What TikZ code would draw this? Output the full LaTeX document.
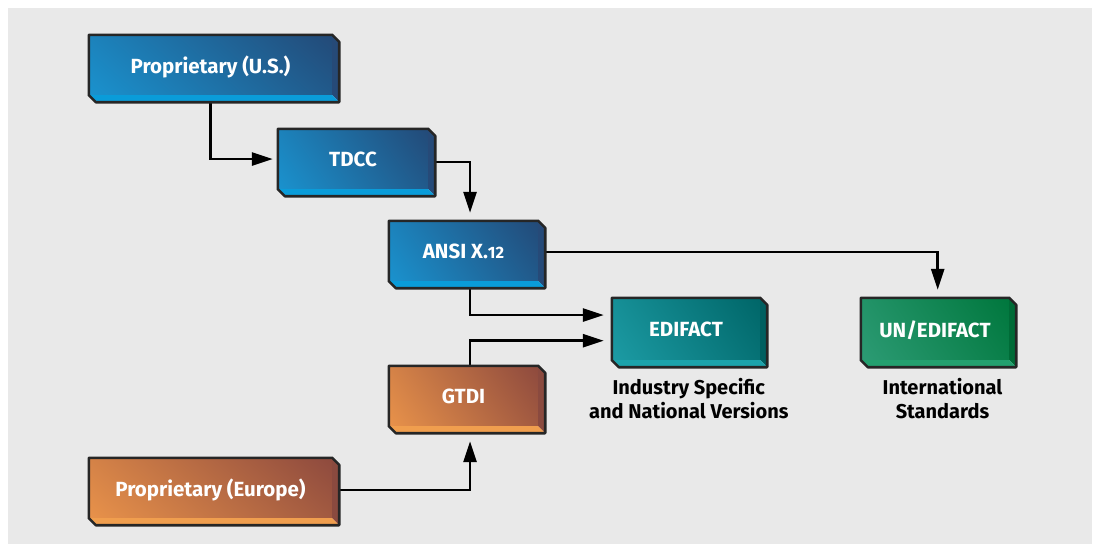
\documentclass[tikz,border=0pt]{standalone}
\usepackage{fontspec}
\setmainfont{Fira Sans}
\usetikzlibrary{arrows.meta,calc,shadings}
\pgfdeclarelayer{back}
\pgfdeclarelayer{bg}
\pgfsetlayers{back,bg,main}
\definecolor{panel}{HTML}{E9E9E9}
\definecolor{edge}{HTML}{262626}
\definecolor{bluL}{HTML}{1A92CE}
\definecolor{bluD}{HTML}{234A78}
\definecolor{bluB}{HTML}{0A9CD9}
\definecolor{bluR}{HTML}{264A78}
\definecolor{orgL}{HTML}{E8924A}
\definecolor{orgD}{HTML}{8E4A3E}
\definecolor{orgB}{HTML}{F09E4E}
\definecolor{orgR}{HTML}{8A4A3F}
\definecolor{teaL}{HTML}{1C9BA4}
\definecolor{teaD}{HTML}{006668}
\definecolor{teaB}{HTML}{1CA3AB}
\definecolor{teaR}{HTML}{005F60}
\definecolor{grnL}{HTML}{2C9B74}
\definecolor{grnD}{HTML}{00773D}
\definecolor{grnB}{HTML}{23A06F}
\definecolor{grnR}{HTML}{006B37}
\newcommand\bevel[3]{%
  \fill[#3] (#1.north east) -- ++(7,7) -- ($(#1.south east)+(7,7)$) -- (#1.south east) -- cycle;
  \fill[#2] (#1.south west) -- (#1.south east) -- ++(7,7) -- ($(#1.south west)+(7,7)$) -- cycle;
  \draw[edge,line width=2.6pt,line join=round]
    (#1.north west) -- (#1.north east) -- ++(7,7) -- ($(#1.south east)+(7,7)$)
    -- ($(#1.south west)+(7,7)$) -- (#1.south west) -- cycle;}
\tikzset{
  face/.style={inner sep=0pt, text=white, font=\fontsize{20.5}{24}\selectfont\bfseries,
    minimum height=60pt, text depth=0pt, yshift=-1pt},
  grad/.style 2 args={lower left=#1, upper right=#2, upper left=#1!78!#2, lower right=#2!78!#1},
  blu/.style={face, grad={bluL}{bluD}},
  org/.style={face, grad={orgL}{orgD}},
  tea/.style={face, grad={teaL}{teaD}},
  grn/.style={face, grad={grnL}{grnD}},
  conn/.style={line width=2.7pt, black, line join=miter, -{Triangle[length=21pt,width=13pt]}, shorten >=8pt},
  caption/.style={align=center, font=\fontsize{20}{24}\selectfont\bfseries, text=black}
}
\begin{document}
\begin{tikzpicture}[x=1pt,y=-1pt]
\useasboundingbox (0,0) rectangle (1100,552);
\begin{pgfonlayer}{back}
\fill[white] (0,0) rectangle (1100,552);
\fill[panel] (8,8) rectangle (1092,544);
\end{pgfonlayer}

\node[blu, minimum width=243pt] (us) at (210.5,64) {Proprietary (U.S.)};
\bevel{us}{bluB}{bluR}
\node[blu, minimum width=150pt] (tdcc) at (353,158) {TDCC};
\bevel{tdcc}{bluB}{bluR}
\node[blu, minimum width=149pt] (ansi) at (463.5,250) {ANSI X.{\fontsize{16.5}{16.5}\selectfont 12}};
\bevel{ansi}{bluB}{bluR}
\node[tea, minimum width=148pt, minimum height=62pt] (edi) at (686,328) {EDIFACT};
\bevel{edi}{teaB}{teaR}
\node[grn, minimum width=148pt, minimum height=62pt] (un) at (935,328) {UN/EDIFACT};
\bevel{un}{grnB}{grnR}
\node[org, minimum width=149pt] (gtdi) at (463.5,395) {GTDI};
\bevel{gtdi}{orgB}{orgR}
\node[org, minimum width=243pt] (eur) at (210.5,487) {Proprietary (Europe)};
\bevel{eur}{orgB}{orgR}

\node[caption] (l1) at (688.8,399) {Industry Specific\\and National Versions};
\node[caption] (l2) at (942.5,399) {International\\Standards};

\coordinate (cx) at (470,0);
\coordinate (ux) at (937.7,0);

\begin{pgfonlayer}{bg}
\draw[conn, shorten >=5pt] (us.south) |- (tdcc.west);
\draw[conn] ([yshift=-3pt]tdcc.east) -| (ansi.north -| cx);
\draw[conn] ([yshift=-1pt]ansi.east) -| (un.north -| ux);
\draw[conn] (ansi.south -| cx) |- ([yshift=14pt]edi.west);
\draw[conn] (gtdi.north -| cx) |- ([yshift=-11.7pt]edi.west);
\draw[conn] ([yshift=-2pt]eur.east) -| ($(gtdi.south -| cx)+(0,7)$);
\end{pgfonlayer}
\end{tikzpicture}
\end{document}
